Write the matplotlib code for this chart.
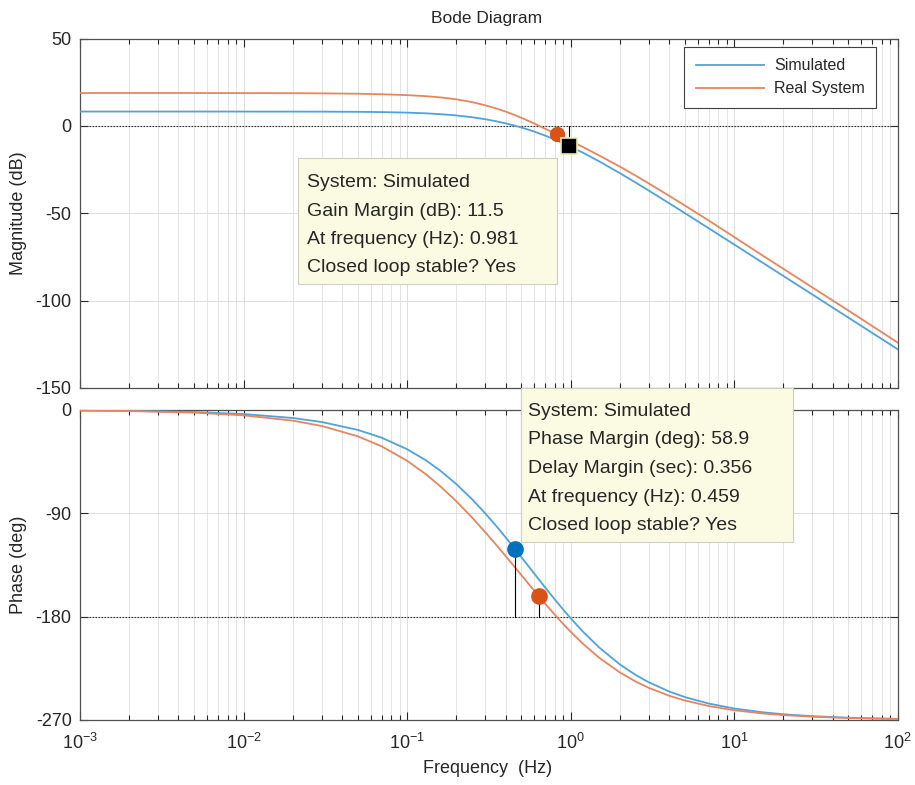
import matplotlib
matplotlib.use('Agg')
import matplotlib.pyplot as plt
from matplotlib.patches import Rectangle
from matplotlib.ticker import NullLocator

plt.rcParams['font.family'] = ['Liberation Sans', 'DejaVu Sans']
plt.rcParams['mathtext.fontset'] = 'custom'
plt.rcParams['mathtext.rm'] = 'Liberation Sans'
plt.rcParams['mathtext.default'] = 'regular'
plt.rcParams['axes.unicode_minus'] = False

# frequency grid (Hz)
freq = [0.001, 0.002, 0.005, 0.01, 0.02, 0.03, 0.05, 0.07, 0.1, 0.13, 0.16, 0.2,
        0.25, 0.3, 0.35, 0.4, 0.46, 0.53, 0.6, 0.7, 0.8, 0.9, 1.0, 1.2, 1.5, 2,
        2.5, 3, 4, 5, 7, 10, 15, 20, 30, 50, 70, 100]

# magnitude (dB)
sim_mag = [8.2, 8.2, 8.2, 8.19, 8.17, 8.14, 8.04, 7.89, 7.58, 7.18, 6.70, 5.97,
           4.94, 3.82, 2.65, 1.46, 0.02, -1.66, -3.31, -5.60, -7.80, -9.89, -11.87,
           -15.54, -20.38, -27.05, -32.46, -36.99, -44.25, -49.95, -58.63, -67.87,
           -78.41, -85.89, -96.45, -109.76, -118.53, -127.82]
real_mag = [18.8, 18.8, 18.8, 18.75, 18.7, 18.6, 18.4, 18.1, 17.6, 17.0, 16.3, 15.2,
            13.6, 11.8, 10.0, 8.2, 6.0, 3.6, 1.3, -1.7, -4.2, -6.5, -8.6,
            -12.3, -17.0, -23.3, -28.5, -32.9, -40.0, -45.6, -54.2, -63.6,
            -74.3, -81.8, -92.4, -105.7, -114.6, -124.0]

# phase (deg)
sim_phase = [-0.35, -0.70, -1.74, -3.49, -6.97, -10.44, -17.34, -24.15, -34.12, -43.73,
             -52.93, -64.49, -77.81, -89.90, -100.88, -110.84, -121.62, -132.75, -142.58,
             -154.73, -164.99, -173.78, -181.34, -193.62, -207.03, -221.57, -230.78,
             -237.09, -245.13, -250.05, -255.71, -259.98, -263.31, -264.98, -266.66,
             -268.0, -268.57, -269.0]
real_phase = [-0.46, -0.93, -2.32, -4.64, -9.27, -13.87, -22.92, -31.70, -44.22, -55.85,
              -66.57, -79.51, -93.77, -106.26, -117.30, -127.12, -137.58, -148.23, -157.52,
              -168.83, -178.29, -186.30, -193.14, -204.11, -215.94, -228.59, -236.54,
              -241.95, -248.85, -253.03, -257.85, -261.48, -264.32, -265.74, -267.16,
              -268.29, -268.78, -269.15]

# stability margin points
gm_sim = (0.981, -11.5)
gm_real = (0.82, -4.6)
pm_sim = (0.459, -121.1)
pm_real = (0.64, -162.3)

tip_gain = ['System: Simulated', 'Gain Margin (dB): 11.5',
            'At frequency (Hz): 0.981', 'Closed loop stable? Yes']
tip_phase = ['System: Simulated', 'Phase Margin (deg): 58.9',
             'Delay Margin (sec): 0.356', 'At frequency (Hz): 0.459',
             'Closed loop stable? Yes']

sim_color = '#4FA2DC'
real_color = '#E8855E'
txt_color = '#262626'

W, H = 915, 785
fig = plt.figure(figsize=(W / 100, H / 100), dpi=100)
ax1 = fig.add_axes([80 / W, 1 - 388 / H, 817.7 / W, 349.5 / H])
ax2 = fig.add_axes([80 / W, 1 - 720 / H, 817.7 / W, 310 / H])

ax1.plot(freq, sim_mag, color=sim_color, lw=1.3, label='Simulated', zorder=3)
ax1.plot(freq, real_mag, color=real_color, lw=1.3, label='Real System', zorder=3)
ax1.axhline(0, color='#333333', lw=0.8, ls=(0, (1.5, 1.2)), zorder=2)
ax1.plot([gm_sim[0]] * 2, [0, gm_sim[1]], color='k', lw=0.8, zorder=4)
ax1.plot(*gm_real, 'o', color='#D95319', ms=10, zorder=5)
ax1.plot(*gm_sim, 's', mfc='black', mec='#EDE6B5', mew=1.2, ms=11, zorder=6)

ax2.plot(freq, sim_phase, color=sim_color, lw=1.3, zorder=3)
ax2.plot(freq, real_phase, color=real_color, lw=1.3, zorder=3)
ax2.axhline(-180, color='#333333', lw=0.8, ls=(0, (1.5, 1.2)), zorder=2)
ax2.plot([pm_sim[0]] * 2, [-180, pm_sim[1]], color='k', lw=0.8, zorder=4)
ax2.plot([pm_real[0]] * 2, [-180, pm_real[1]], color='k', lw=0.8, zorder=4)
ax2.plot(*pm_sim, 'o', color='#0072BD', ms=11, zorder=5)
ax2.plot(*pm_real, 'o', color='#D95319', ms=11, zorder=5)

for ax in (ax1, ax2):
    ax.set_xscale('log')
    ax.set_xlim(1e-3, 1e2)
    ax.yaxis.set_minor_locator(NullLocator())
    ax.tick_params(which='both', direction='in', top=True, right=True,
                   labelsize=13, colors=txt_color, width=0.8)
    ax.tick_params(which='major', length=6, pad=6)
    ax.tick_params(which='minor', length=3.5)
    ax.grid(True, which='major', color='#dcdcdc', lw=0.7, zorder=0)
    ax.grid(True, which='minor', axis='x', color='#e4e4e4', lw=0.7, zorder=0)
    for s in ax.spines.values():
        s.set_color('#505050')
        s.set_linewidth(0.9)

ax1.set_ylim(-150, 50)
ax1.set_yticks([-150, -100, -50, 0, 50])
ax1.tick_params(labelbottom=False)
ax2.set_ylim(-270, 0)
ax2.set_yticks([-270, -180, -90, 0])
ax2.tick_params(axis='x', pad=9)

ax1.set_ylabel('Magnitude (dB)', fontsize=13, color=txt_color)
ax1.yaxis.set_label_coords(-0.065, 0.5)
ax2.set_ylabel('Phase (deg)', fontsize=13, color=txt_color)
ax2.yaxis.set_label_coords(-0.065, 0.5)
ax2.set_xlabel('Frequency  (Hz)', fontsize=13, color=txt_color)
ax2.xaxis.set_label_coords(0.498, -0.13)

fig.text(487 / W, 1 - 23 / H, 'Bode Diagram', ha='center', va='baseline',
         fontsize=12.5, color=txt_color)

leg = ax1.legend(loc='upper right', bbox_to_anchor=(0.9735, 0.9757), borderaxespad=0,
                 fontsize=11.5, handlelength=4.3, handletextpad=0.6, borderpad=0.72,
                 labelspacing=0.5, fancybox=False, framealpha=1, edgecolor='#404040')
leg.get_frame().set_linewidth(0.8)
for t in leg.get_texts():
    t.set_color(txt_color)


def datatip(x0, y0, x1, y1, lines, tx, ty):
    fig.patches.append(Rectangle((x0 / W, 1 - y1 / H), (x1 - x0) / W, (y1 - y0) / H,
                                 transform=fig.transFigure, facecolor='#FBFBE4',
                                 edgecolor='#CFCFC0', lw=0.8, zorder=10))
    for i, line in enumerate(lines):
        fig.text(tx / W, 1 - (ty + 28.5 * i) / H, line, ha='left', va='baseline',
                 fontsize=14, color=txt_color, zorder=11)


datatip(298, 158, 557, 284, tip_gain, 307, 187)
datatip(521, 388, 793, 542, tip_phase, 528, 416)

fig.savefig('out.png', dpi=100)
